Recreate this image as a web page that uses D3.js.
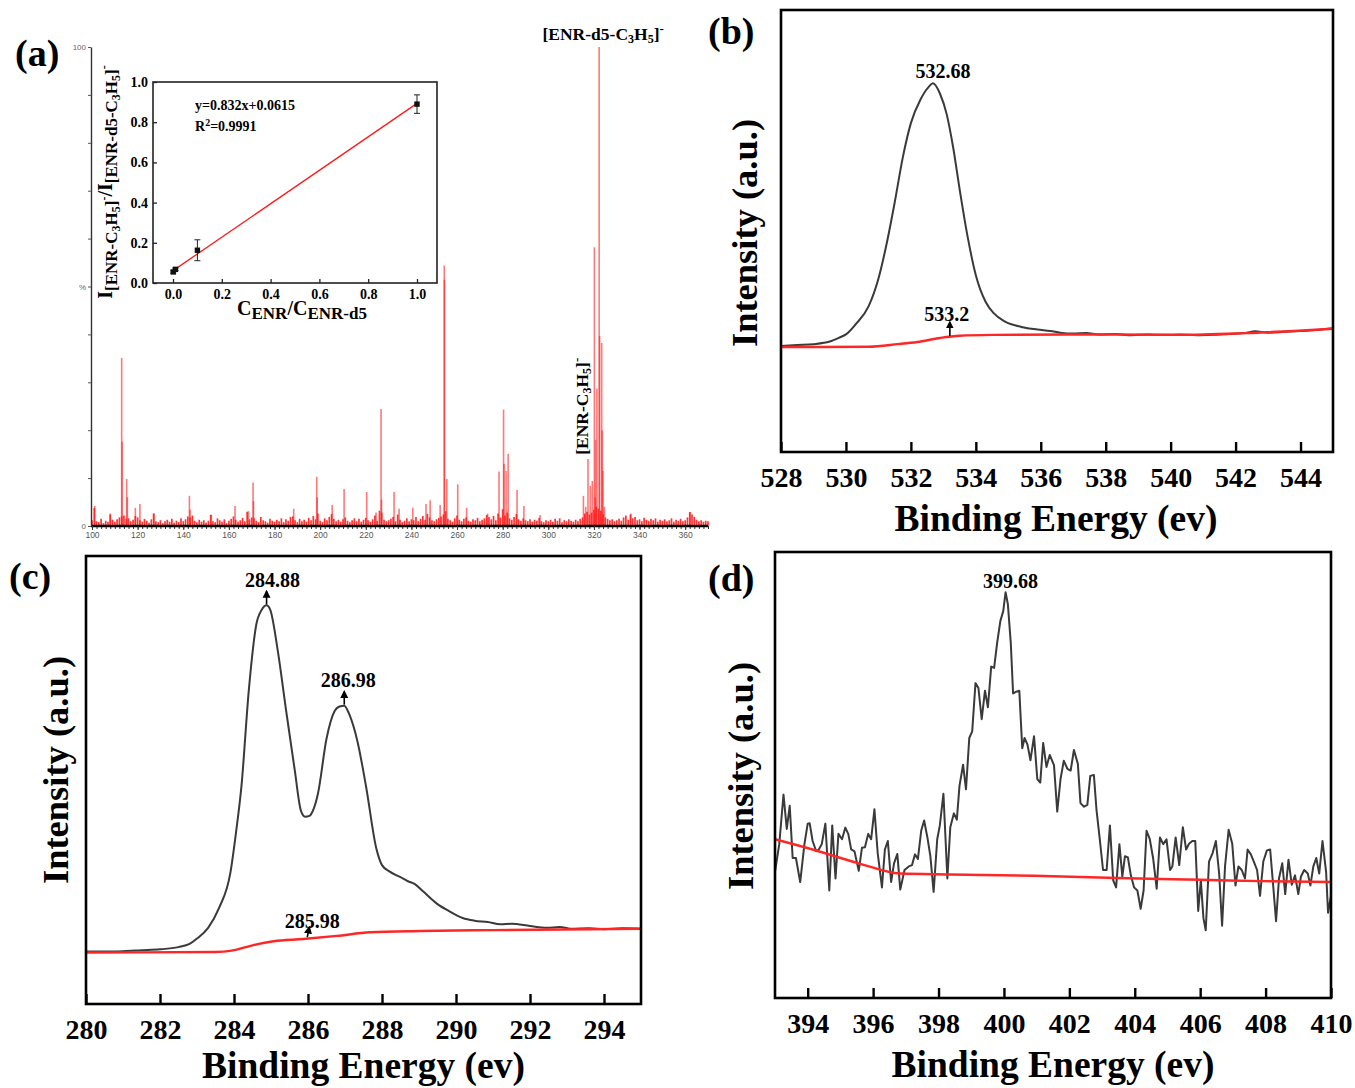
<!DOCTYPE html>
<html>
<head>
<meta charset="utf-8">
<script src="https://cdn.jsdelivr.net/npm/d3@7"></script>
<style>
  body { margin: 0; background: #fff; }
  svg { display: block; }
</style>
</head>
<body>
<svg id="fig" width="1355" height="1088"></svg>
<script>
// ================= data =================

// (a) MS/MS spectrum: baseline ions at integer m/z starting at 100 (relative %)
const msNoiseStart = 100;
const msNoise = [
  1.2, 3.8, 1.0, 0.8, 1.5, 0.6, 1.1, 0.9, 2.4, 1.3,
  0.9, 1.4, 1.8, 2.0, 2.2, 1.5, 1.6, 1.0, 1.3, 2.1,
  1.8, 1.2, 0.9, 1.5, 1.1, 0.7, 1.4, 2.6, 1.0, 0.8,
  1.2, 0.6, 1.0, 1.3, 0.9, 1.5, 0.7, 1.1, 0.8, 1.6,
  1.0, 1.4, 2.0, 1.8, 2.2, 1.1, 0.8, 1.3, 0.9, 1.2,
  0.7, 1.1, 2.3, 1.0, 0.8, 1.6, 1.2, 0.9, 1.4, 0.6,
  1.1, 1.5, 2.0, 1.3, 0.9, 1.2, 1.7, 1.0, 3.0, 1.4,
  1.8, 1.6, 1.1, 0.8, 1.9, 1.2, 1.0, 0.7, 1.5, 1.1,
  0.9, 1.3, 1.0, 1.6, 0.8, 1.4, 1.1, 1.9, 2.0, 1.2,
  0.8, 1.5, 1.0, 1.3, 0.9, 1.7, 1.2, 2.1, 1.4, 2.6,
  1.1, 0.8, 1.6, 1.2, 1.9, 2.5, 1.5, 1.0, 1.3, 0.9,
  1.4, 1.8, 1.1, 0.8, 1.2, 1.6, 1.0, 1.5, 0.9, 1.3,
  1.7, 1.2, 0.9, 1.4, 2.2, 1.1, 3.2, 2.8, 1.3, 1.0,
  1.2, 1.5, 1.9, 1.0, 2.4, 1.3, 0.8, 1.1, 1.6, 1.0,
  1.4, 1.2, 1.9, 1.0, 1.5, 2.1, 1.3, 2.5, 1.8, 1.2,
  1.0, 1.4, 1.7, 2.0, 2.4, 3.1, 1.5, 1.2, 0.9, 1.6,
  2.2, 1.3, 1.0, 1.5, 1.8, 1.1, 0.9, 1.4, 1.2, 1.7,
  1.0, 1.3, 1.6, 2.3, 1.9, 1.4, 2.1, 1.2, 2.6, 1.8,
  3.5, 2.2, 2.8, 1.6, 1.3, 1.9, 2.5, 1.4, 1.1, 1.6,
  1.2, 1.0, 1.4, 0.9, 1.3, 1.1, 1.7, 1.0, 0.8, 1.2,
  1.0, 1.3, 0.9, 1.5, 1.1, 1.6, 0.8, 1.2, 1.0, 1.4,
  1.1, 0.9, 1.3, 1.0, 1.5, 1.8, 2.6, 3.0, 2.4, 2.8,
  3.4, 4.0, 3.6, 3.2, 2.5, 1.8, 1.5, 1.2, 1.4, 1.0,
  1.2, 1.5, 1.1, 1.8, 2.2, 1.3, 2.4, 1.6, 1.9, 1.2,
  1.4, 1.0, 1.7, 1.3, 1.1, 1.5, 1.2, 1.6, 0.9, 1.3,
  1.1, 1.4, 1.0, 1.2, 1.6, 0.9, 1.3, 1.1, 1.5, 1.0,
  1.2, 1.8, 2.9, 2.4, 1.9, 1.3, 1.0, 1.2, 0.9, 1.1,
  1.0
];

// (a) fragment peaks [m/z, relative intensity %]
const msPeaks = [
  [101.2, 4.2], [108.0, 2.6], [113.0, 35.1], [113.2, 17.6], [115.2, 9.8], [115.5, 6.0],
  [119.0, 3.8], [121.0, 4.6], [127.2, 2.6], [142.7, 6.3], [143.0, 3.4], [152.3, 2.4],
  [162.7, 4.2], [168.6, 3.1], [170.6, 9.1], [170.8, 5.2], [188.4, 3.6], [198.5, 10.3],
  [198.7, 6.0], [205.3, 4.4], [210.5, 7.7], [220.4, 7.1], [224.5, 2.8], [226.7, 24.4],
  [226.9, 5.5], [232.4, 7.1], [234.6, 3.6], [240.6, 3.8], [246.4, 4.6], [248.2, 5.4],
  [252.6, 4.4], [254.4, 54.4], [254.5, 51.4], [255.5, 9.8], [260.3, 8.7], [264.2, 3.8],
  [273.4, 2.6], [278.4, 11.4], [280.4, 24.3], [280.6, 13.0], [281.5, 11.5], [282.4, 15.1],
  [286.3, 7.5], [289.3, 4.2], [296.4, 2.3], [315.4, 6.3], [316.4, 4.0], [317.4, 14.0],
  [318.4, 8.4], [319.3, 9.4], [320.2, 58.2], [320.5, 6.0], [320.7, 18.0], [321.3, 28.7],
  [322.3, 100], [322.5, 39.7], [323.4, 38.2], [323.6, 20.0], [324.0, 11.5], [324.6, 4.0],
  [336.2, 2.6], [362.2, 2.9]
];
const msTicks = [100, 120, 140, 160, 180, 200, 220, 240, 260, 280, 300, 320, 340, 360];
const msYTicks = [0, 10, 20, 30, 40, 50, 60, 70, 80, 90, 100];

// (a) inset: calibration of intensity ratio vs concentration ratio
const calX = [0.001, 0.01, 0.1, 1.0];
const calY = [0.055, 0.068, 0.163, 0.89];
const calErr = [0.006, 0.006, 0.052, 0.046];
const calSlope = 0.832;
const calIntercept = 0.0615;
const calTicks = [0, 0.2, 0.4, 0.6, 0.8, 1.0];

// (b) O 1s: [binding energy eV, intensity a.u.]
const o1sSignal = [
  [528.0, 24.0], [528.5, 24.2], [529.0, 24.4], [529.5, 25.0], [529.8, 25.9], [530.0, 26.6],
  [530.3, 28.9], [530.7, 33.0], [531.0, 39.2], [531.25, 47.0], [531.5, 56.4], [531.75, 66.6],
  [532.0, 74.4], [532.3, 79.8], [532.55, 82.6], [532.68, 83.4], [532.9, 81.0], [533.1, 76.5],
  [533.3, 69.0], [533.5, 59.5], [533.75, 48.6], [534.0, 40.0], [534.3, 34.0], [534.55, 31.4],
  [534.9, 29.5], [535.4, 28.3], [535.9, 27.7], [536.3, 27.4], [536.6, 27.0], [537.0, 26.8],
  [537.4, 26.9], [537.8, 26.6], [538.3, 26.7], [538.8, 26.4], [539.3, 26.6], [539.8, 26.5],
  [540.3, 26.6], [540.8, 26.4], [541.3, 26.5], [541.8, 26.7], [542.3, 26.9], [542.6, 27.3],
  [543.0, 27.0], [543.5, 27.2], [544.0, 27.4], [544.5, 27.6], [545.0, 28.0]
];
const o1sBackground = [
  [528.0, 23.75], [530.7, 23.8], [531.6, 24.4], [532.2, 24.9], [532.9, 25.8], [533.5, 26.3],
  [534.5, 26.5], [537.1, 26.6], [540.3, 26.5], [542.3, 26.9], [545.0, 27.9]
];
const o1sTicks = [528, 530, 532, 534, 536, 538, 540, 542, 544];

// (c) C 1s
const c1sSignal = [
  [280.0, 11.7], [280.5, 11.7], [281.0, 11.8], [281.5, 12.0], [282.0, 12.2], [282.5, 12.7],
  [282.8, 13.4], [283.0, 14.6], [283.3, 17.0], [283.6, 21.5], [283.9, 29.2], [284.05, 38.0],
  [284.2, 48.5], [284.4, 70.0], [284.6, 84.6], [284.75, 88.0], [284.88, 89.0], [284.98, 88.0],
  [285.19, 78.5], [285.41, 65.4], [285.64, 52.3], [285.81, 43.1], [285.92, 41.8], [286.04, 42.0],
  [286.15, 43.5], [286.27, 47.0], [286.5, 59.2], [286.72, 65.4], [286.85, 66.4], [286.98, 66.6],
  [287.12, 64.6], [287.34, 58.5], [287.57, 48.5], [287.85, 34.6], [288.0, 31.0], [288.2, 29.6],
  [288.5, 28.3], [288.7, 27.4], [288.88, 26.8], [289.1, 25.2], [289.5, 22.3], [289.8, 20.8],
  [290.18, 19.2], [290.5, 18.6], [290.86, 18.3], [291.2, 17.8], [291.5, 17.9], [292.0, 17.4],
  [292.45, 17.0], [292.8, 17.2], [293.1, 16.8], [293.6, 16.9], [294.0, 16.7], [294.5, 16.9],
  [295.0, 16.8]
];
const c1sBackground = [
  [280.0, 11.5], [283.5, 11.6], [283.94, 11.9], [284.5, 13.1], [285.07, 14.0], [285.87, 14.5],
  [286.78, 15.2], [287.68, 16.0], [289.05, 16.3], [291.0, 16.5], [295.0, 16.8]
];
const c1sTicks = [280, 282, 284, 286, 288, 290, 292, 294];

// (d) N 1s
const n1sSignal = [
  [393.00, 28.3], [393.13, 34.5], [393.26, 45.6], [393.36, 37.9], [393.45, 43.1], [393.54, 31.4],
  [393.64, 31.4], [393.77, 26.0], [393.90, 34.5], [394.00, 39.1], [394.06, 39.2], [394.15, 35.2],
  [394.26, 32.9], [394.34, 33.3], [394.43, 34.5], [394.54, 39.1], [394.66, 24.1], [394.75, 38.7],
  [394.85, 26.8], [394.94, 36.8], [395.05, 35.6], [395.15, 38.2], [395.24, 36.8], [395.33, 33.3],
  [395.43, 32.9], [395.56, 28.5], [395.66, 33.7], [395.75, 33.8], [395.85, 36.8], [395.94, 35.6],
  [396.04, 42.3], [396.14, 32.5], [396.27, 24.8], [396.36, 33.3], [396.45, 35.2], [396.55, 26.0],
  [396.64, 30.2], [396.74, 32.3], [396.83, 24.3], [396.96, 28.7], [397.09, 29.5], [397.19, 29.8],
  [397.28, 32.2], [397.37, 31.2], [397.47, 37.5], [397.56, 39.8], [397.66, 36.0], [397.75, 31.8],
  [397.85, 23.8], [397.96, 35.6], [398.04, 38.7], [398.15, 45.8], [398.27, 26.8], [398.36, 38.3],
  [398.47, 41.4], [398.56, 40.0], [398.64, 47.5], [398.75, 52.3], [398.84, 46.8], [398.94, 58.3],
  [399.03, 59.8], [399.13, 70.6], [399.22, 69.5], [399.32, 62.5], [399.42, 68.9], [399.51, 65.2],
  [399.61, 74.3], [399.70, 74.0], [399.79, 79.5], [399.89, 84.5], [399.98, 86.8], [400.05, 91.0],
  [400.12, 88.3], [400.21, 79.5], [400.28, 68.3], [400.38, 68.7], [400.47, 68.9], [400.56, 56.0],
  [400.63, 58.3], [400.72, 56.8], [400.81, 53.3], [400.92, 58.7], [401.02, 49.1], [401.11, 48.3],
  [401.20, 57.2], [401.30, 51.8], [401.40, 54.5], [401.53, 52.2], [401.63, 41.8], [401.73, 49.1],
  [401.83, 53.2], [401.94, 51.4], [402.04, 51.0], [402.14, 55.6], [402.26, 52.5], [402.34, 43.7],
  [402.45, 42.9], [402.55, 43.3], [402.64, 49.8], [402.75, 50.0], [402.83, 42.2], [402.93, 35.6],
  [403.03, 28.7], [403.14, 28.7], [403.24, 38.7], [403.34, 26.4], [403.43, 24.8], [403.53, 34.5],
  [403.62, 27.2], [403.70, 31.8], [403.79, 31.5], [403.88, 27.5], [403.98, 24.8], [404.08, 24.1],
  [404.18, 20.0], [404.27, 24.1], [404.36, 37.5], [404.46, 35.6], [404.56, 31.4], [404.67, 24.5],
  [404.77, 36.0], [404.87, 34.5], [404.97, 35.6], [405.08, 28.7], [405.15, 29.5], [405.25, 36.0],
  [405.36, 29.8], [405.47, 38.3], [405.57, 33.3], [405.66, 34.6], [405.76, 35.2], [405.85, 35.2],
  [405.94, 19.5], [406.02, 26.4], [406.10, 17.9], [406.17, 15.2], [406.27, 30.6], [406.38, 32.5],
  [406.48, 35.2], [406.58, 27.9], [406.67, 16.2], [406.76, 29.5], [406.87, 37.7], [406.98, 34.6],
  [407.08, 25.2], [407.17, 29.5], [407.27, 28.7], [407.37, 26.8], [407.45, 33.3], [407.55, 32.2],
  [407.64, 30.6], [407.74, 28.7], [407.83, 22.9], [407.93, 30.6], [408.04, 33.1], [408.14, 33.3],
  [408.24, 24.5], [408.32, 17.2], [408.41, 26.8], [408.51, 30.2], [408.60, 23.3], [408.70, 31.0],
  [408.80, 25.4], [408.90, 27.5], [409.00, 23.3], [409.08, 27.2], [409.18, 28.7], [409.29, 27.9],
  [409.37, 25.2], [409.46, 29.5], [409.55, 31.4], [409.64, 27.9], [409.74, 35.2], [409.85, 28.3],
  [409.91, 19.1], [410.00, 22.9]
];
const n1sBackground = [
  [393.0, 35.6], [394.15, 33.3], [395.56, 30.2], [396.83, 27.9], [398.36, 27.7], [400.92, 27.4],
  [403.47, 26.9], [406.02, 26.5], [407.93, 26.2], [410.0, 26.0]
];
const n1sTicks = [394, 396, 398, 400, 402, 404, 406, 408, 410];

// ================= drawing =================
const svg = d3.select("#fig");
const serif = "'Liberation Serif','Times New Roman',Times,serif";
const sans = "'Liberation Sans',Arial,Helvetica,sans-serif";

svg.append("defs").append("marker")
  .attr("id", "arrowHead").attr("viewBox", "0 0 10 10")
  .attr("refX", 8).attr("refY", 5)
  .attr("markerWidth", 5).attr("markerHeight", 6)
  .attr("orient", "auto")
  .append("path").attr("d", "M0,0 L10,5 L0,10 z").attr("fill", "#000");

// text built from runs of [string, font size, vertical offset]
function richText(parent, segs, attrs) {
  const t = parent.append("text")
    .attr("font-family", serif).attr("font-weight", "bold").attr("fill", "#000");
  Object.entries(attrs).forEach(([k, v]) => t.attr(k, v));
  let prev = 0;
  segs.forEach(([str, size, off]) => {
    t.append("tspan").attr("font-size", size).attr("dy", off - prev).text(str);
    prev = off;
  });
  return t;
}

function panelLetter(txt, x, y) {
  svg.append("text").attr("x", x).attr("y", y)
    .attr("font-family", serif).attr("font-weight", "bold").attr("font-size", 38)
    .text(txt);
}

// ---------- (a) spectrum ----------
const gA = svg.append("g");
const msX = d3.scaleLinear().domain([100, 370]).range([92, 708]);
const msY = d3.scaleLinear().domain([0, 100]).range([526, 47]);

gA.append("g").selectAll("line").data(msNoise).join("line")
  .attr("x1", (d, i) => msX(msNoiseStart + i)).attr("x2", (d, i) => msX(msNoiseStart + i))
  .attr("y1", msY(0)).attr("y2", d => msY(d))
  .attr("stroke", "#ff1010").attr("stroke-width", 1.7).attr("stroke-opacity", 0.85);

gA.append("g").selectAll("line").data(msPeaks).join("line")
  .attr("x1", d => msX(d[0])).attr("x2", d => msX(d[0]))
  .attr("y1", msY(0)).attr("y2", d => msY(d[1]))
  .attr("stroke", "#ff2020").attr("stroke-width", 1.6).attr("stroke-opacity", 0.6);

// x axis with minor ticks every 2
gA.append("g").attr("transform", `translate(0,${msY(0)})`)
  .call(d3.axisBottom(msX).tickValues(d3.range(100, 371, 2)).tickSize(3).tickSizeOuter(0).tickFormat(""))
  .call(g => g.select(".domain").remove())
  .call(g => g.selectAll("line").attr("stroke", "#333"));
gA.append("g").attr("transform", `translate(0,${msY(0)})`)
  .call(d3.axisBottom(msX).tickValues(msTicks).tickSize(4).tickSizeOuter(0).tickPadding(2).tickFormat(d3.format("d")))
  .call(g => g.select(".domain").attr("stroke", "#000").attr("stroke-width", 2.4).attr("d", `M${msX(100) - 1},0H${msX(370)}`))
  .call(g => g.selectAll("line").attr("stroke", "#333"))
  .call(g => g.selectAll("text").attr("font-family", sans).attr("font-size", 8.5).attr("fill", "#555"));

// y axis (relative abundance)
gA.append("g").attr("transform", `translate(${msX(100) - 1},0)`)
  .call(d3.axisLeft(msY).tickValues(msYTicks).tickSize(3).tickSizeOuter(0).tickPadding(2)
    .tickFormat(d => d === 100 ? "100" : d === 0 ? "0" : d === 50 ? "%" : ""))
  .call(g => g.select(".domain").attr("stroke", "#333").attr("stroke-width", 1.4))
  .call(g => g.selectAll("line").attr("stroke", "#555"))
  .call(g => g.selectAll("text").attr("font-family", sans).attr("font-size", 8).attr("fill", "#666"));

// ion labels
richText(gA, [["[ENR-d5-C", 17.5, 0], ["3", 12, 3], ["H", 17.5, 0], ["5", 12, 3], ["]", 17.5, 0], ["-", 13, -7]],
  { x: msX(322.3) + 4, y: 40, "text-anchor": "middle" });
richText(gA, [["[ENR-C", 17.5, 0], ["3", 12, 3], ["H", 17.5, 0], ["5", 12, 3], ["]", 17.5, 0], ["-", 13, -7]],
  { transform: `translate(588,${msY(25)}) rotate(-90)`, "text-anchor": "middle" });

// ---------- (a) inset calibration ----------
const gI = svg.append("g");
const calXs = d3.scaleLinear().domain([-0.082, 1.082]).range([153, 437]);
const calYs = d3.scaleLinear().domain([0, 1]).range([283, 82]);

gI.append("rect").attr("x", calXs(-0.082)).attr("y", calYs(1))
  .attr("width", calXs(1.082) - calXs(-0.082)).attr("height", calYs(0) - calYs(1))
  .attr("fill", "#fff").attr("stroke", "#222").attr("stroke-width", 1.6);

gI.append("g").attr("transform", `translate(0,${calYs(0)})`)
  .call(d3.axisBottom(calXs).tickValues(calTicks).tickSize(-4).tickSizeOuter(0).tickPadding(6).tickFormat(d3.format(".1f")))
  .call(g => g.select(".domain").remove())
  .call(g => g.selectAll("line").attr("stroke", "#222").attr("stroke-width", 1.3))
  .call(g => g.selectAll("text").attr("font-family", serif).attr("font-weight", "bold").attr("font-size", 14).attr("fill", "#000"));
gI.append("g").attr("transform", `translate(${calXs(-0.082)},0)`)
  .call(d3.axisLeft(calYs).tickValues(calTicks).tickSize(-4).tickSizeOuter(0).tickPadding(5).tickFormat(d3.format(".1f")))
  .call(g => g.select(".domain").remove())
  .call(g => g.selectAll("line").attr("stroke", "#222").attr("stroke-width", 1.3))
  .call(g => g.selectAll("text").attr("font-family", serif).attr("font-weight", "bold").attr("font-size", 14).attr("fill", "#000"));

// fitted line y = slope*x + intercept
gI.append("line")
  .attr("x1", calXs(0)).attr("y1", calYs(calIntercept))
  .attr("x2", calXs(1)).attr("y2", calYs(calSlope + calIntercept))
  .attr("stroke", "#ff1a1a").attr("stroke-width", 1.3);

const calPts = calX.map((x, i) => ({ x, y: calY[i], e: calErr[i] }));
const eb = gI.append("g").attr("stroke", "#222").attr("stroke-width", 1);
eb.selectAll("line.v").data(calPts).join("line").attr("class", "v")
  .attr("x1", d => calXs(d.x)).attr("x2", d => calXs(d.x))
  .attr("y1", d => calYs(d.y - d.e)).attr("y2", d => calYs(d.y + d.e));
eb.selectAll("line.t").data(calPts).join("line").attr("class", "t")
  .attr("x1", d => calXs(d.x) - 3).attr("x2", d => calXs(d.x) + 3)
  .attr("y1", d => calYs(d.y + d.e)).attr("y2", d => calYs(d.y + d.e));
eb.selectAll("line.b").data(calPts).join("line").attr("class", "b")
  .attr("x1", d => calXs(d.x) - 3).attr("x2", d => calXs(d.x) + 3)
  .attr("y1", d => calYs(d.y - d.e)).attr("y2", d => calYs(d.y - d.e));
gI.selectAll("rect.pt").data(calPts).join("rect").attr("class", "pt")
  .attr("x", d => calXs(d.x) - 2.7).attr("y", d => calYs(d.y) - 2.7)
  .attr("width", 5.4).attr("height", 5.4).attr("fill", "#111");

gI.append("text").attr("x", 195).attr("y", 110)
  .attr("font-family", serif).attr("font-weight", "bold").attr("font-size", 14)
  .text(`y=${calSlope}x+${calIntercept}`);
richText(gI, [["R", 14, 0], ["2", 10, -5], ["=0.9991", 14, 0]], { x: 195, y: 131 });

richText(gI, [["C", 20, 0], ["ENR", 17, 4], ["/", 20, 0], ["C", 20, 0], ["ENR-d5", 17, 4]],
  { x: 302, y: 315, "text-anchor": "middle" });
richText(gI, [
  ["I", 20, 0], ["[ENR-C", 17, 5], ["3", 12, 8], ["H", 17, 5], ["5", 12, 8], ["]", 17, 5], ["-", 12, -4],
  ["/", 20, 0], ["I", 20, 0], ["[ENR-d5-C", 17, 5], ["3", 12, 8], ["H", 17, 5], ["5", 12, 8], ["]", 17, 5], ["-", 12, -4]
], { transform: "translate(112,182) rotate(-90)", "text-anchor": "middle" });

panelLetter("(a)", 15, 66);

// ---------- XPS panels ----------
function xpsPanel(cfg) {
  const g = svg.append("g");
  const x = d3.scaleLinear().domain(cfg.domain).range([cfg.left, cfg.right]);
  const y = d3.scaleLinear().domain([0, 100]).range([cfg.bottom, cfg.top]);
  const line = d3.line().x(d => x(d[0])).y(d => y(d[1])).curve(cfg.curve);

  g.append("path").datum(cfg.signal).attr("d", line)
    .attr("fill", "none").attr("stroke", "#3a3a3a").attr("stroke-width", 2).attr("stroke-linejoin", "round");
  g.append("path").datum(cfg.background).attr("d", d3.line().x(d => x(d[0])).y(d => y(d[1])).curve(d3.curveMonotoneX))
    .attr("fill", "none").attr("stroke", "#ff2626").attr("stroke-width", 2.4);

  g.append("rect").attr("x", cfg.left).attr("y", cfg.top)
    .attr("width", cfg.right - cfg.left).attr("height", cfg.bottom - cfg.top)
    .attr("fill", "none").attr("stroke", "#000").attr("stroke-width", 2.6);

  g.append("g").attr("transform", `translate(0,${cfg.bottom})`)
    .call(d3.axisBottom(x).tickValues(cfg.ticks).tickSize(-10).tickSizeOuter(0).tickPadding(15).tickFormat(d3.format("d")))
    .call(a => a.select(".domain").remove())
    .call(a => a.selectAll("line").attr("stroke", "#000").attr("stroke-width", 2.4))
    .call(a => a.selectAll("text").attr("font-family", serif).attr("font-weight", "bold").attr("font-size", 28).attr("fill", "#000"));

  g.append("text").attr("x", (cfg.left + cfg.right) / 2 + cfg.titleDx).attr("y", cfg.bottom + cfg.titleGap)
    .attr("text-anchor", "middle").attr("font-family", serif).attr("font-weight", "bold").attr("font-size", 37.5)
    .text("Binding Energy (ev)");
  g.append("text")
    .attr("transform", `translate(${cfg.left - cfg.yTitleGap},${(cfg.top + cfg.bottom) / 2 + cfg.yTitleDy}) rotate(-90)`)
    .attr("text-anchor", "middle").attr("font-family", serif).attr("font-weight", "bold").attr("font-size", 36.5)
    .text("Intensity (a.u.)");

  // peak annotations
  cfg.notes.forEach(n => {
    const px = x(n.at[0]), py = y(n.at[1]);
    if (n.arrow) {
      g.append("line").attr("x1", px).attr("y1", py - 1).attr("x2", px + n.arrow[0]).attr("y2", py - n.arrow[1])
        .attr("stroke", "#000").attr("stroke-width", 1.6).attr("marker-end", "url(#arrowHead)");
    }
    g.append("text").attr("x", px + n.dx).attr("y", py - n.dy)
      .attr("text-anchor", "middle").attr("font-family", serif).attr("font-weight", "bold").attr("font-size", 20)
      .text(n.label);
  });
  return g;
}

xpsPanel({
  domain: [528, 545], left: 781, right: 1333, top: 10, bottom: 452,
  signal: o1sSignal, background: o1sBackground, ticks: o1sTicks, curve: d3.curveMonotoneX,
  titleDx: -1, titleGap: 79, yTitleGap: 24, yTitleDy: 2,
  notes: [
    { label: "532.68", at: [532.68, 83.4], dx: 10, dy: 5 },
    { label: "533.2", at: [533.2, 26.0], dx: -3, dy: 16, arrow: [0, 15] }
  ]
});
xpsPanel({
  domain: [280, 295], left: 86, right: 641, top: 556, bottom: 1004,
  signal: c1sSignal, background: c1sBackground, ticks: c1sTicks, curve: d3.curveMonotoneX,
  titleDx: 0, titleGap: 74, yTitleGap: 18, yTitleDy: -10,
  notes: [
    { label: "284.88", at: [284.88, 89.0], dx: 6, dy: 18, arrow: [0, 14] },
    { label: "286.98", at: [286.98, 66.6], dx: 4, dy: 19, arrow: [0, 14] },
    { label: "285.98", at: [285.98, 14.7], dx: 5, dy: 10, arrow: [2, 11] }
  ]
});
xpsPanel({
  domain: [393, 410], left: 775, right: 1331, top: 552, bottom: 998,
  signal: n1sSignal, background: n1sBackground, ticks: n1sTicks, curve: d3.curveLinear,
  titleDx: 0, titleGap: 79, yTitleGap: 22, yTitleDy: 1,
  notes: [
    { label: "399.68", at: [400.05, 91.0], dx: 5, dy: 4 }
  ]
});

panelLetter("(b)", 708, 44);
panelLetter("(c)", 9, 589);
panelLetter("(d)", 708, 591);
</script>
</body>
</html>
